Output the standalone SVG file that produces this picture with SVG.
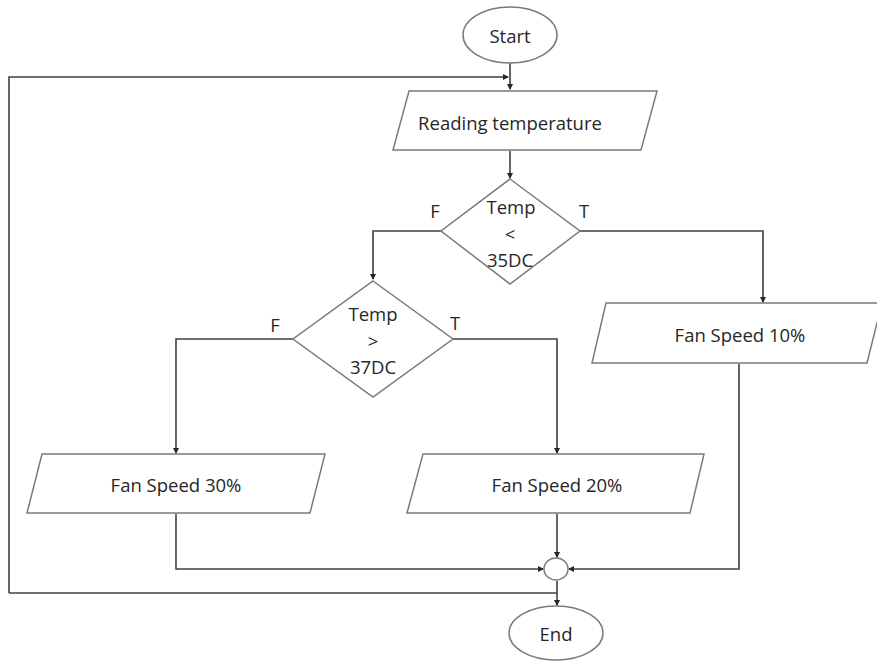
<svg xmlns="http://www.w3.org/2000/svg" width="877" height="661" viewBox="0 0 877 661">
<style>
.shape{fill:#ffffff;stroke:#7a7a7a;stroke-width:1.5}
.conn{fill:none;stroke:#404040;stroke-width:1.6}
text{font-family:"Open Sans","Noto Sans",sans-serif;font-size:18.5px;fill:#262626;text-anchor:middle;dominant-baseline:central}
</style>
<defs>
<marker id="arr" markerWidth="6" markerHeight="6" refX="5" refY="3" orient="auto" markerUnits="userSpaceOnUse">
<path d="M0,0 L6,3 L0,6 Z" fill="#262626"/>
</marker>
</defs>
<rect width="877" height="661" fill="#ffffff"/>
<g id="connectors">
<path class="conn" d="M510,63 L510,89" marker-end="url(#arr)"/>
<path class="conn" d="M9,593 L9,77 L508,77" marker-end="url(#arr)"/>
<path class="conn" d="M510,151 L510,178" marker-end="url(#arr)"/>
<path class="conn" d="M441,231 L373,231 L373,279" marker-end="url(#arr)"/>
<path class="conn" d="M580,231 L763,231 L763,302" marker-end="url(#arr)"/>
<path class="conn" d="M293,339 L176,339 L176,453" marker-end="url(#arr)"/>
<path class="conn" d="M453,339 L557,339 L557,453" marker-end="url(#arr)"/>
<path class="conn" d="M557,514 L557,557" marker-end="url(#arr)"/>
<path class="conn" d="M176,514 L176,569 L543,569" marker-end="url(#arr)"/>
<path class="conn" d="M739,364 L739,569 L569,569" marker-end="url(#arr)"/>
<path class="conn" d="M557,581 L557,605" marker-end="url(#arr)"/>
<path class="conn" d="M9,593 L557,593"/>
</g>
<g id="start">
<ellipse class="shape" cx="510" cy="35" rx="47" ry="28"/>
<text x="510" y="35">Start</text>
</g>
<g id="read">
<polygon class="shape" points="409,91 657,91 641,150 393,150"/>
<text x="510" y="122">Reading temperature</text>
</g>
<g id="dec1">
<polygon class="shape" points="510,179 580,231 510,284 441,231"/>
<text x="511" y="206">Temp</text>
<text x="510" y="233">&lt;</text>
<text x="510" y="259">35DC</text>
<text x="435" y="210">F</text>
<text x="584" y="210">T</text>
</g>
<g id="dec2">
<polygon class="shape" points="373,281 453,339 373,397 293,339"/>
<text x="373" y="313">Temp</text>
<text x="373" y="340">&gt;</text>
<text x="373" y="366">37DC</text>
<text x="275" y="324">F</text>
<text x="455" y="322">T</text>
</g>
<g id="fan10">
<polygon class="shape" points="606,303 882,303 867,363 592,363"/>
<text x="740" y="334">Fan Speed 10%</text>
</g>
<g id="fan30">
<polygon class="shape" points="42,454 325,454 310,513 27,513"/>
<text x="176" y="484">Fan Speed 30%</text>
</g>
<g id="fan20">
<polygon class="shape" points="423,454 704,454 690,513 407,513"/>
<text x="557" y="484">Fan Speed 20%</text>
</g>
<g id="merge">
<ellipse class="shape" cx="556" cy="569" rx="12" ry="11"/>
</g>
<g id="end">
<ellipse class="shape" cx="556" cy="633" rx="47" ry="27"/>
<text x="556" y="633">End</text>
</g>
</svg>
